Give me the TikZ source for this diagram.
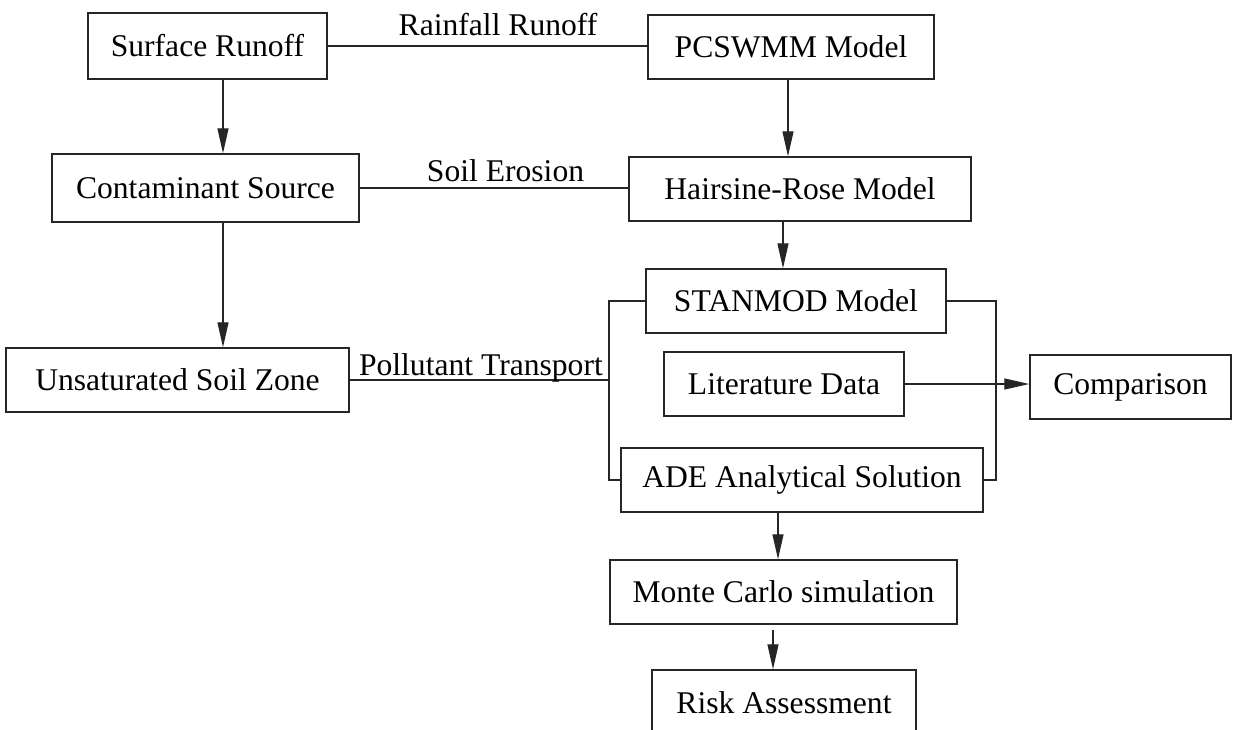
\documentclass[tikz,border=0pt]{standalone}
\usepackage{fontspec}
\setmainfont{Liberation Serif}
\usetikzlibrary{arrows.meta}
\begin{document}
\begin{tikzpicture}[x=1pt,y=-1pt,
  txt/.style={font=\fontsize{31.6}{36}\selectfont},
  box/.style={txt, draw=black!85, line width=1.5pt, inner sep=0pt, minimum height=64pt},
  link/.style={draw=black!85, line width=1.3pt},
  flow/.style={link, -{Triangle[length=25pt,width=11pt]}},
  lbl/.style={txt, inner sep=0pt, anchor=base}]
\useasboundingbox (0,0) rectangle (1237,729);
\clip (0,0) rectangle (1237,729);

% left column
\node[box, minimum width=239pt, minimum height=66pt] (sr) at (207.5,46) {Surface Runoff\hspace{7.5pt}};
\node[box, minimum width=307pt, minimum height=68pt] (cs) at (205.5,188) {Contaminant Source\hspace{7pt}};
\node[box, minimum width=343pt] (us) at (177.5,380) {Unsaturated Soil Zone\hspace{10pt}};

% right column
\node[box, minimum width=286pt] (pc) at (791,47) {PCSWMM Model\hspace{12.5pt}};
\node[box, minimum width=342pt] (hr) at (800,189) {Hairsine-Rose Model\hspace{17pt}};
\node[box, minimum width=300pt] (st) at (796,301) {STANMOD Model\hspace{10.5pt}};
\node[box, minimum width=240pt] (ld) at (784,384) {Literature Data\hspace{9pt}};
\node[box, minimum width=201pt] (cp) at (1130.5,387) {Comparison\hspace{7pt}};
\node[box, minimum width=362pt] (ade) at (802,480) {ADE Analytical Solution};
\node[box, minimum width=347pt] (mc) at (783.5,592) {Monte Carlo simulation};
\node[box, minimum width=264pt, minimum height=65pt] (ra) at (784,702.5) {Risk Assessment\hspace{9pt}};

% bracket joints
\coordinate (bl) at (609,380);
\coordinate (br) at (996,384);

% horizontal links
\draw[link] (sr.east) -- node[lbl, pos=0.533, yshift=11pt] (rl) {Rainfall Runoff} (sr.east -| pc.west);
\draw[link] (cs.east) -- node[lbl, pos=0.543, yshift=7pt] (el) {Soil Erosion} (cs.east -| hr.west);
\draw[link] (us.east) -- node[lbl, pos=0.506, yshift=5pt] (tl) {Pollutant Transport} (bl);
\draw[link] (st.west) -| (bl) |- (ade.west);
\draw[link] (st.east) -| (br) |- (ade.east);
\draw[flow] (ld.east) -- (ld.east -| cp.west);

% vertical flows
\draw[flow] ([xshift=15.5pt]sr.south) -- ([xshift=15.5pt]sr.south |- cs.north);
\draw[flow] ([xshift=17.5pt]cs.south) -- ([xshift=17.5pt]cs.south |- us.north);
\draw[flow] ([xshift=-3pt]pc.south) -- ([xshift=-3pt]pc.south |- hr.north);
\draw[flow] ([xshift=-17pt]hr.south) -- ([xshift=-17pt]hr.south |- st.north);
\draw[flow] ([xshift=-24pt]ade.south) -- ([xshift=-24pt]ade.south |- mc.north);
\draw[flow, shorten <=5pt] ([xshift=-10.5pt]mc.south) -- ([xshift=-10.5pt]mc.south |- ra.north);
\end{tikzpicture}
\end{document}
